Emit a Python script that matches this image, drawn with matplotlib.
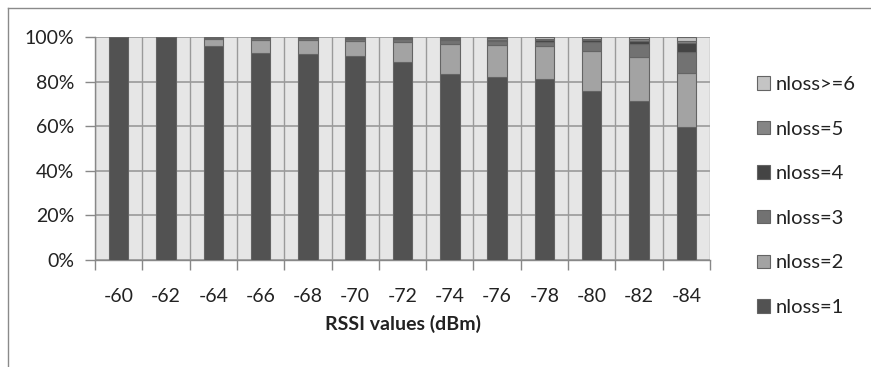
import numpy as np
import matplotlib.pyplot as plt
from matplotlib.lines import Line2D

plt.rcParams['font.family'] = ['Lato', 'DejaVu Sans']

rssi = ["-60", "-62", "-64", "-66", "-68", "-70", "-72", "-74", "-76", "-78", "-80", "-82", "-84"]

# percentage of losses per RSSI value
nloss1 = [100, 100, 96.2, 92.8, 92.4, 91.7, 89.0, 83.4, 82.3, 81.1, 75.9, 71.5, 59.9]
nloss2 = [0, 0, 3.0, 6.2, 6.6, 6.7, 9.0, 13.6, 14.1, 15.0, 18.0, 19.8, 24.0]
nloss3 = [0, 0, 0.5, 0.6, 0.6, 1.0, 1.2, 1.6, 1.9, 2.0, 4.0, 5.7, 9.4]
nloss4 = [0, 0, 0.1, 0.2, 0.2, 0.2, 0.3, 0.5, 0.6, 0.7, 0.8, 1.3, 4.0]
nloss5 = [0, 0, 0.1, 0.1, 0.1, 0.2, 0.3, 0.5, 0.6, 0.6, 0.7, 0.9, 1.2]
nloss6 = [0, 0, 0.1, 0.1, 0.1, 0.2, 0.2, 0.4, 0.5, 0.6, 0.6, 0.8, 1.5]

series = [nloss1, nloss2, nloss3, nloss4, nloss5, nloss6]
labels = ["nloss=1", "nloss=2", "nloss=3", "nloss=4", "nloss=5", "nloss>=6"]
colors = ["#525252", "#a3a3a3", "#727272", "#444444", "#858585", "#c4c4c4"]

fig = plt.figure(figsize=(8.71, 3.67), dpi=100)
ax = fig.add_axes([95 / 871, 1 - 260 / 367, 615 / 871, 222.7 / 367])
ax.set_facecolor("#e6e6e6")

x = np.arange(len(rssi))
bottom = np.zeros(len(rssi))
for vals, lab, col in zip(series, labels, colors):
    ax.bar(x, vals, 0.41, bottom=bottom, color=col, edgecolor="#646464",
           linewidth=0.8, zorder=3, label=lab)
    bottom += np.array(vals)

ax.set_xlim(-0.5, len(rssi) - 0.5)
ax.set_ylim(0, 100)
ax.set_yticks([0, 20, 40, 60, 80, 100])
ax.set_yticklabels(["0%", "20%", "40%", "60%", "80%", "100%"])
ax.set_xticks(x)
ax.set_xticklabels(rssi)
ax.set_xticks(np.arange(-0.5, len(rssi)), minor=True)

ax.grid(axis="y", color="#9a9a9a", linewidth=1.2, zorder=1)
ax.grid(axis="x", which="minor", color="#9a9a9a", linewidth=1.0, zorder=1)
ax.tick_params(axis="x", which="major", length=0, pad=20, labelsize=14, labelcolor="#222222")
ax.tick_params(axis="x", which="minor", length=7, color="#888888", width=1)
ax.tick_params(axis="y", length=7, color="#888888", width=1, pad=8, labelsize=14, labelcolor="#222222")

for s in ["top", "right"]:
    ax.spines[s].set_visible(False)
for s in ["left", "bottom"]:
    ax.spines[s].set_color("#888888")
    ax.spines[s].set_linewidth(1.0)

ax.set_xlabel("RSSI values (dBm)", fontsize=14, fontweight="bold", color="#222222", labelpad=7)

h, l = ax.get_legend_handles_labels()
fig.legend(h[::-1], l[::-1], loc="upper left", bbox_to_anchor=(747 / 871, 1 - 66 / 367),
           frameon=False, fontsize=14.5, labelspacing=1.37, handlelength=0.65,
           handleheight=0.65, handletextpad=0.25, borderpad=0, labelcolor="#222222")

# chart area border
fig.add_artist(Line2D([8 / 871, 8 / 871], [0, 1 - 8 / 367], color="#8a8a8a", linewidth=1.0))
fig.add_artist(Line2D([8 / 871, 1], [1 - 8 / 367, 1 - 8 / 367], color="#8a8a8a", linewidth=1.0))

fig.savefig("out.png", dpi=100)
